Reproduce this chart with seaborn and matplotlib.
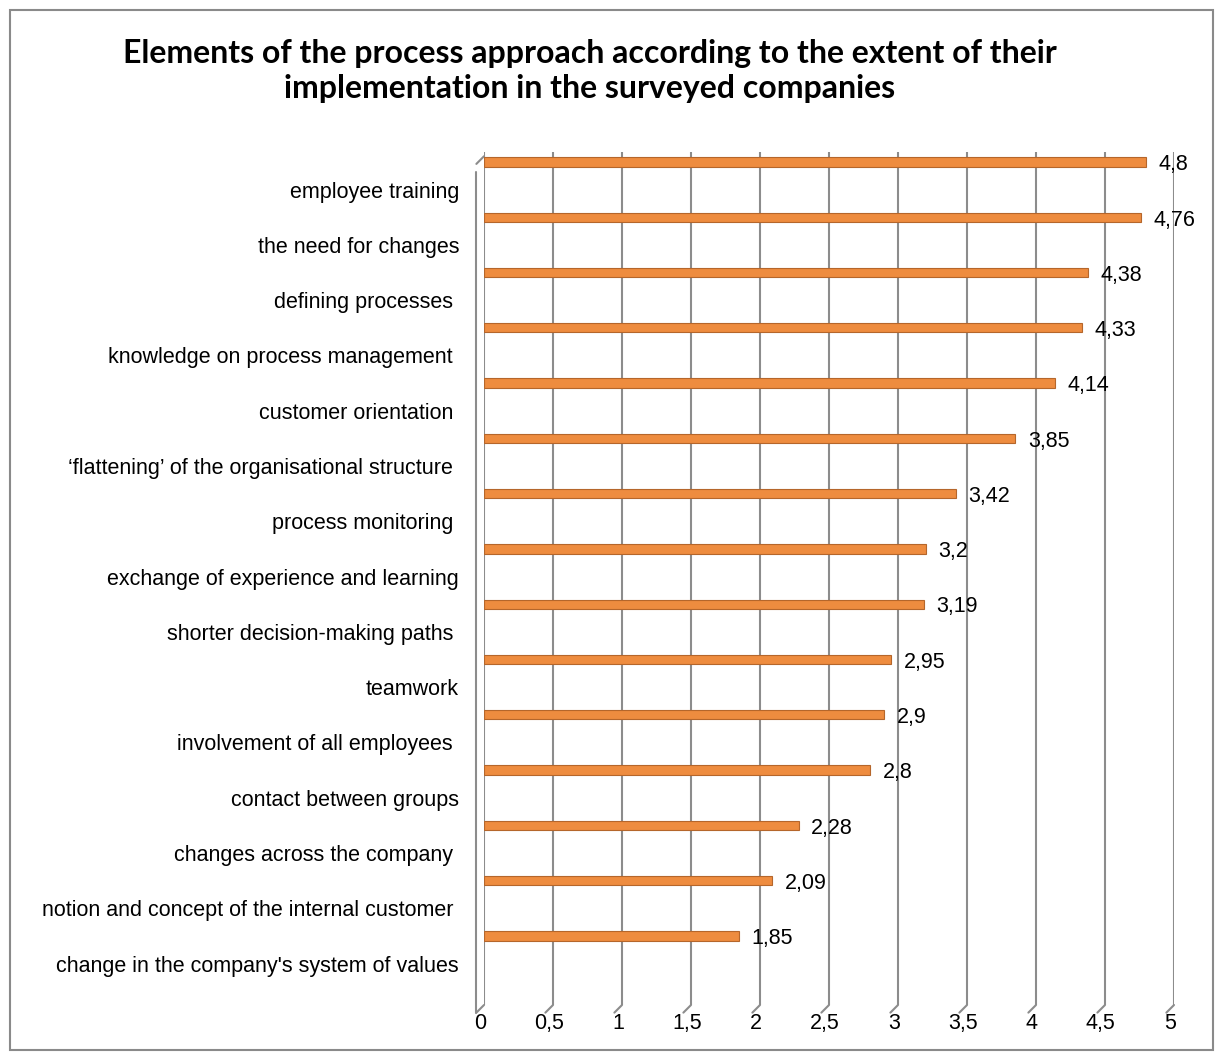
import matplotlib
matplotlib.use("Agg")
import matplotlib.pyplot as plt
import matplotlib.transforms as mtransforms
from matplotlib.patches import Rectangle
from matplotlib import font_manager
import seaborn as sns
import pandas as pd
import numpy as np

categories = [
    "employee training",
    "the need for changes",
    "defining processes ",
    "knowledge on process management ",
    "customer orientation ",
    "\u2018flattening\u2019 of the organisational structure ",
    "process monitoring ",
    "exchange of experience and learning",
    "shorter decision-making paths ",
    "teamwork",
    "involvement of all employees ",
    "contact between groups",
    "changes across the company ",
    "notion and concept of the internal customer ",
    "change in the company's system of values",
]
values = [4.8, 4.76, 4.38, 4.33, 4.14, 3.85, 3.42, 3.2, 3.19, 2.95, 2.9, 2.8, 2.28, 2.09, 1.85]
value_labels = ["4,8", "4,76", "4,38", "4,33", "4,14", "3,85", "3,42", "3,2", "3,19",
                "2,95", "2,9", "2,8", "2,28", "2,09", "1,85"]
x_ticks = [0, 0.5, 1, 1.5, 2, 2.5, 3, 3.5, 4, 4.5, 5]
x_tick_labels = ["0", "0,5", "1", "1,5", "2", "2,5", "3", "3,5", "4", "4,5", "5"]
title = "Elements of the process approach according to the extent of their\nimplementation in the surveyed companies"

sns.set_theme(style="white")
installed = {f.name for f in font_manager.fontManager.ttflist}
narrow = [f for f in ["Liberation Sans Narrow", "Liberation Sans", "DejaVu Sans"] if f in installed]
is_narrow = narrow[0] == "Liberation Sans Narrow"
fs = 17 if is_narrow else 15.5
plt.rcParams["font.family"] = narrow
plt.rcParams["text.color"] = "black"
plt.rcParams["xtick.color"] = "black"
plt.rcParams["ytick.color"] = "black"

df = pd.DataFrame({"category": categories, "value": values})

dpi = 100
fig = plt.figure(figsize=(12.15, 10.55), dpi=dpi)
fig.patch.set_facecolor("white")
ax = fig.add_axes([484 / 1215, 1 - 1005 / 1055, 690 / 1215, 853 / 1055])

grid_color = "#8c8c8c"
for v in x_ticks:
    ax.axvline(v, color=grid_color, lw=1.5, zorder=0)
    ax.annotate("", xy=(v, 0), xycoords=ax.get_xaxis_transform(),
                xytext=(-5.5, -5.5), textcoords="offset points",
                arrowprops=dict(arrowstyle="-", color=grid_color, lw=1.5,
                                shrinkA=0, shrinkB=0), annotation_clip=False)

off = mtransforms.ScaledTranslation(-5.5 / 72, -5.5 / 72, fig.dpi_scale_trans)
ax.plot([0, 0], [0, 0.985], transform=ax.get_xaxis_transform() + off,
        color=grid_color, lw=1.5, clip_on=False, zorder=0)
ax.annotate("", xy=(0, 0.995), xycoords=ax.get_xaxis_transform(),
            xytext=(-5.5, -5.5), textcoords="offset points",
            arrowprops=dict(arrowstyle="-", color=grid_color, lw=1.5,
                            shrinkA=0, shrinkB=0), annotation_clip=False)

sns.barplot(data=df, x="value", y="category", orient="h", ax=ax,
            color="#ee8c3f", edgecolor="#b5662b", linewidth=0.8,
            width=0.17, saturation=1, zorder=3)

ax.set_xlim(0, 5)
ax.set_ylim(15.25, -0.18)
ax.set_yticks(np.arange(len(categories)) + 0.5)
ax.set_yticklabels(categories, fontsize=fs, family=narrow, color="black")
ax.set_xticks(x_ticks)
ax.set_xticklabels(x_tick_labels, fontsize=fs, family=narrow, color="black")
ax.tick_params(axis="y", length=0, pad=18)
ax.tick_params(axis="x", length=0, pad=6)
for lbl in ax.get_xticklabels():
    lbl.set_transform(lbl.get_transform() + mtransforms.ScaledTranslation(-3 / 72, 0, fig.dpi_scale_trans))
ax.set_xlabel("")
ax.set_ylabel("")
for s in ax.spines.values():
    s.set_visible(False)
ax.set_facecolor("none")

for i, (v, lab) in enumerate(zip(values, value_labels)):
    ax.annotate(lab, xy=(v, i), xytext=(9, -2), textcoords="offset points",
                ha="left", va="center", fontsize=fs, family=narrow, color="black",
                annotation_clip=False, zorder=4)

fig.text(590 / 1215, 1 - 39 / 1055, title, ha="center", va="top",
         fontsize=23, fontweight="bold", family=["Lato", "DejaVu Sans"],
         linespacing=1.25, color="black")

fig.patches.append(Rectangle((10 / 1215, 1 - 1050 / 1055), 1203 / 1215, 1040 / 1055,
                             transform=fig.transFigure, fill=False,
                             edgecolor="#8a8a8a", lw=1.5))

fig.savefig("out.png", dpi=dpi)
